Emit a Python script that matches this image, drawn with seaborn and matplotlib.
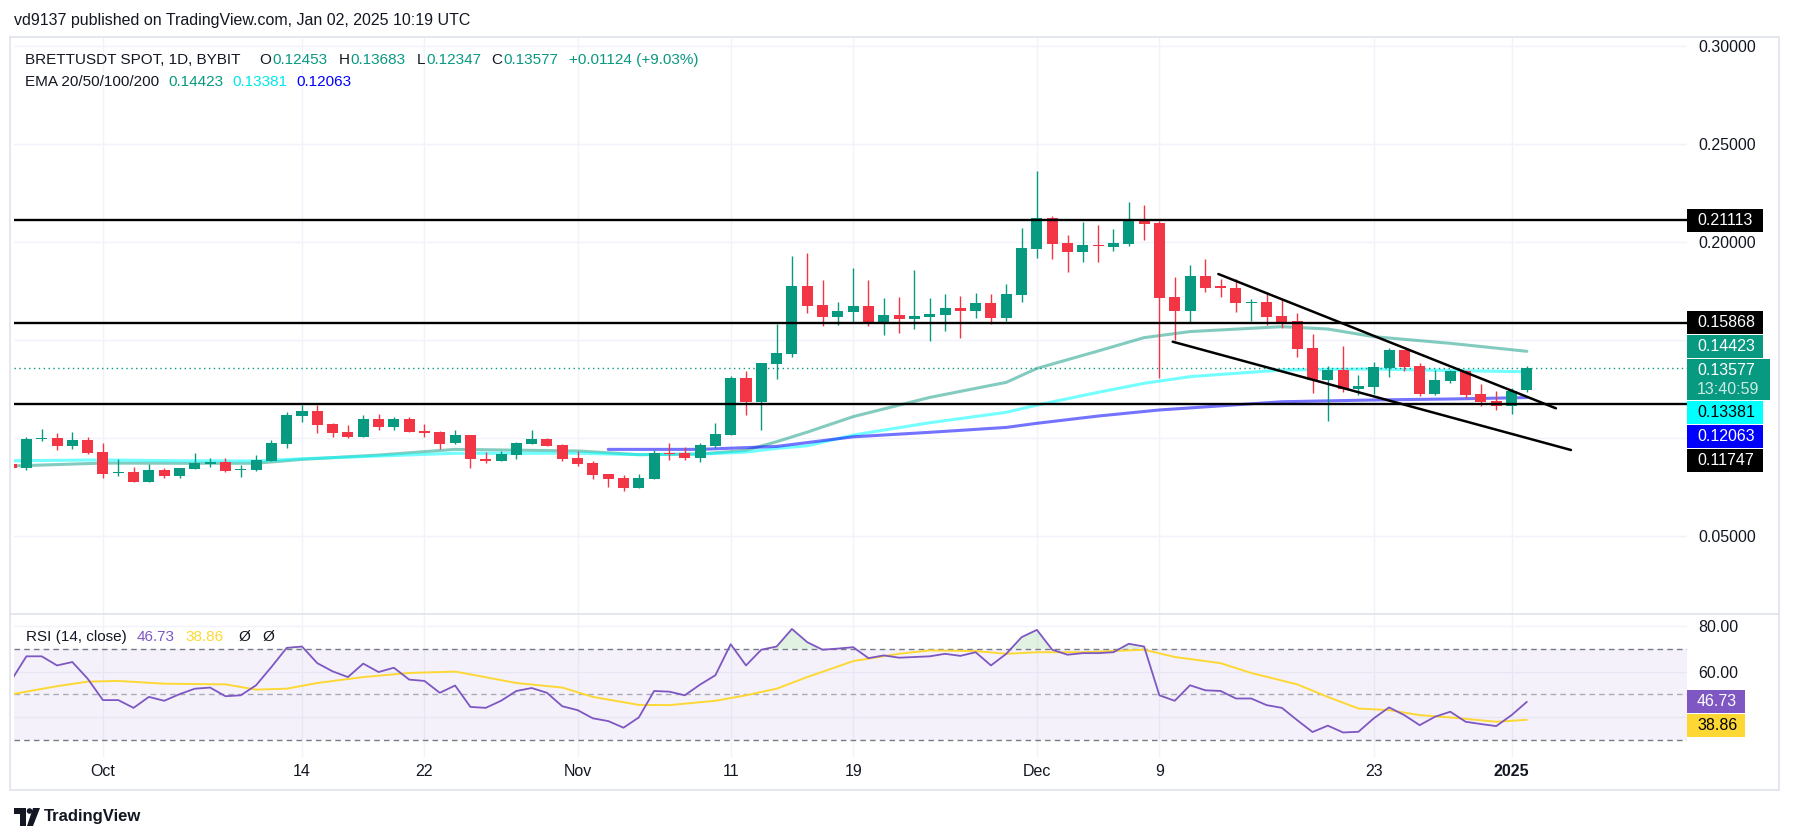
import numpy as np
import pandas as pd
import matplotlib
matplotlib.use("Agg")
import matplotlib.pyplot as plt
from matplotlib.patches import Rectangle, Polygon, Ellipse
from matplotlib.lines import Line2D
import seaborn as sns

# --- data (BRETTUSDT spot, 1D, Bybit) ---
DATES = pd.date_range("2024-09-25", "2025-01-02", freq="D")

OPEN = [.0867, .0849, .0995, .0999, .0961, .0990, .0929, .0823, .0827, .0777,
        .0837, .0808, .0843, .0867, .0878, .0838, .0838, .0884, .0971, .1114,
        .1138, .1073, .1031, .1007, .1097, .1058, .1097, .1036, .1031, .0973,
        .1015, .0893, .0884, .0915, .0971, .0995, .0964, .0898, .0872, .0816,
        .0796, .0747, .0792, .0925, .0923, .0900, .0961, .1017, .1306, .1185,
        .1379, .1430, .1776, .1679, .1619, .1645, .1674, .1594, .1628, .1609,
        .1619, .1629, .1663, .1650, .1689, .1614, .1730, .1964, .2122, .1995,
        .1949, .1985, .1974, .1990, .2112, .2097, .1719, .1650, .1827, .1770,
        .1765, .1690, .1694, .1624, .1597, .1459, .1298, .1349, .1252, .1262,
        .1359, .1449, .1367, .1226, .1292, .1342, .1225, .1189, .1165, .12453]
HIGH = [.0871, .1003, .1046, .1026, .1031, .1005, .0975, .0891, .0850, .0867,
        .0845, .0849, .0923, .0896, .0898, .0862, .0913, .0990, .1133, .1168,
        .1168, .1075, .1066, .1119, .1122, .1107, .1107, .1071, .1036, .1041,
        .1017, .0930, .0935, .0981, .1041, .0998, .0969, .0935, .0884, .0818,
        .0811, .0816, .0937, .0975, .0954, .0975, .1076, .1316, .1342, .1385,
        .1580, .1929, .1944, .1806, .1694, .1867, .1806, .1714, .1719, .1857,
        .1714, .1735, .1724, .1740, .1735, .1786, .2071, .2362, .2132, .2036,
        .2102, .2087, .2066, .2204, .2189, .2107, .1821, .1883, .1913, .1811,
        .1811, .1709, .1747, .1711, .1638, .1531, .1367, .1469, .1321, .1388,
        .1461, .1451, .1383, .1347, .1347, .1347, .1275, .1240, .1255, .13683]
LOW = [.0845, .0838, .0986, .0940, .0946, .0920, .0798, .0808, .0775, .0775,
       .0798, .0798, .0842, .0854, .0828, .0803, .0833, .0882, .0951, .1083,
       .1027, .1007, .1002, .1005, .1042, .1042, .1030, .1007, .0946, .0971,
       .0845, .0874, .0881, .0895, .0969, .0959, .0884, .0859, .0792, .0752,
       .0731, .0745, .0790, .0890, .0886, .0879, .0951, .1015, .1117, .1043,
       .1303, .1415, .1638, .1573, .1578, .1592, .1573, .1527, .1537, .1558,
       .1497, .1548, .1512, .1614, .1583, .1599, .1694, .1918, .1913, .1847,
       .1898, .1898, .1954, .1979, .2010, .1306, .1500, .1594, .1747, .1721,
       .1645, .1599, .1578, .1563, .1415, .1231, .1088, .1236, .1221, .1226,
       .1313, .1344, .1216, .1221, .1282, .1206, .1165, .1145, .1124, .12347]
CLOSE = [.0849, .0995, .0998, .0961, .0990, .0925, .0818, .0827, .0777, .0837,
         .0808, .0847, .0872, .0878, .0833, .0842, .0888, .0974, .1117, .1138,
         .1068, .1027, .1007, .1097, .1058, .1097, .1032, .1027, .0971, .1015,
         .0891, .0884, .0918, .0974, .0995, .0961, .0895, .0869, .0813, .0792,
         .0747, .0796, .0923, .0920, .0900, .0964, .1020, .1306, .1185, .1383,
         .1434, .1776, .1675, .1619, .1648, .1674, .1594, .1628, .1609, .1622,
         .1633, .1663, .1650, .1689, .1614, .1735, .1969, .2122, .1990, .1949,
         .1985, .1979, .1995, .2112, .2092, .1716, .1650, .1827, .1767, .1767,
         .1690, .1695, .1619, .1594, .1456, .1298, .1349, .1252, .1267, .1362,
         .1449, .1364, .1226, .1296, .1342, .1221, .1185, .1165, .1240, .13577]
RSI = [56.0, 66.7, 66.7, 62.7, 64.2, 56.9, 47.5, 47.5, 44.1, 48.9,
       47.2, 50.1, 52.5, 53.0, 49.2, 49.6, 54.0, 62.0, 70.4, 71.0,
       63.7, 60.1, 57.6, 63.5, 59.8, 61.7, 56.5, 55.9, 50.7, 53.9,
       44.5, 44.1, 47.2, 51.5, 52.8, 50.7, 44.8, 43.1, 39.5, 38.3,
       35.4, 39.9, 51.5, 51.2, 49.6, 54.3, 58.4, 72.0, 62.7, 69.6,
       71.0, 78.7, 72.9, 69.6, 70.1, 70.7, 65.9, 67.1, 66.1, 66.4,
       66.7, 67.8, 66.9, 68.5, 62.7, 67.8, 75.1, 78.3, 69.6, 67.4,
       68.1, 68.1, 68.5, 72.2, 71.0, 49.6, 47.2, 54.0, 51.8, 51.5,
       48.2, 48.2, 45.3, 44.1, 38.7, 33.5, 36.3, 33.3, 33.6, 39.5,
       44.3, 40.9, 36.5, 40.2, 42.4, 38.0, 37.0, 36.1, 40.9, 46.73]

# EMA curves sampled along the drawn lines (x = days after 2024-10-01)
EMA_DAYS = [-6, 0, 5, 10, 13, 18, 23, 31, 35, 39, 42, 44, 46, 49, 54, 59, 61, 65,
            68, 71, 77, 80, 83, 88, 93]
EMA20 = [0.0857, 0.0872, 0.0871, 0.0871, 0.0891, 0.0913, 0.0942, 0.0934, 0.0915,
         0.0918, 0.0937, 0.0981, 0.1030, 0.1109, 0.1207, 0.1284, 0.1355, 0.1444,
         0.1512, 0.1543, 0.1568, 0.1556, 0.1517, 0.1483, 0.14423]
EMA50 = [0.0884, 0.0888, 0.0884, 0.0883, 0.0894, 0.0908, 0.0922, 0.0922, 0.0915,
         0.0918, 0.0928, 0.0947, 0.0960, 0.1015, 0.1078, 0.1131, 0.1168, 0.1233,
         0.1279, 0.1313, 0.1347, 0.1350, 0.1352, 0.1344, 0.13381]
EMA100_DAYS = [33, 39, 44, 49, 54, 59, 61, 65, 69, 77, 83, 88, 93]
EMA100 = [0.0942, 0.0942, 0.0957, 0.1006, 0.1029, 0.1054, 0.1075, 0.1112, 0.1143,
          0.1185, 0.1194, 0.1199, 0.12063]

RSI_MA_DAYS = [-6, -3, -1, 1, 4, 8, 10, 12, 14, 17, 20, 23, 24, 27, 30, 32, 35, 37,
               40, 42, 44, 46, 49, 52, 54, 57, 59, 61, 64, 68, 70, 73, 75, 78, 80,
               82, 84, 86, 88, 91, 93]
RSI_MA = [50.0, 53.6, 55.6, 55.9, 54.7, 54.4, 52.1, 52.5, 55.0, 57.6, 59.4, 60.0,
          58.8, 55.0, 53.0, 48.9, 45.4, 45.3, 47.2, 49.6, 52.5, 57.6, 64.6, 67.8,
          69.3, 69.0, 67.8, 68.5, 68.5, 69.6, 66.4, 63.7, 59.4, 54.4, 48.9, 43.8,
          43.1, 40.9, 39.9, 38.0, 38.86]

LEVELS = [0.21113, 0.15868, 0.11747]
WEDGE_TOP_DAYS = [72.85, 94.9]
WEDGE_TOP = [0.18367, 0.11515]
WEDGE_BOTTOM_DAYS = [69.87, 95.88]
WEDGE_BOTTOM = [0.14913, 0.09388]

TICK_DATES = ["2024-10-01", "2024-10-14", "2024-10-22", "2024-11-01", "2024-11-11",
              "2024-11-19", "2024-12-01", "2024-12-09", "2024-12-23", "2025-01-01"]
TICK_LABELS = ["Oct", "14", "22", "Nov", "11", "19", "Dec", "9", "23", "2025"]
PRICE_TICKS = [0.05, 0.10, 0.15, 0.20, 0.25, 0.30]
PRICE_TICK_LABELS = ["0.05000", "", "", "0.20000", "0.25000", "0.30000"]
RSI_TICKS = [40, 60, 80]
RSI_TICK_LABELS = ["", "60.00", "80.00"]

# --- style ---
GREEN, RED, INK = "#089981", "#F23645", "#131722"
CYAN, BLUE, PURPLE, YELLOW = "#00FFFF", "#0000FF", "#7E57C2", "#FDD835"
GRID, FRAME = "#F0F3FA", "#E0E3EB"

sns.set_theme(style="white")
plt.rcParams["font.family"] = ["Liberation Sans", "DejaVu Sans"]

W, H = 1793, 839


def fx(px):
    return px / W


def fy(py):
    return 1 - py / H


BASE = pd.Timestamp("2024-10-01")
day = np.asarray((DATES - BASE).days, dtype=float)
tick_days = [(pd.Timestamp(t) - BASE).days for t in TICK_DATES]

fig = plt.figure(figsize=(W / 100, H / 100), dpi=100)
fig.patch.set_facecolor("white")

ax = fig.add_axes([fx(14), fy(614), fx(1687) - fx(14), fy(37) - fy(614)])
ax_rsi = fig.add_axes([fx(14), fy(757), fx(1687) - fx(14), fy(614) - fy(757)], sharex=ax)

# --- price pane ---
ax.set_xlim(-5.81, 103.46)
ax.set_ylim(0.2 - 372 / 1960, 0.2 + 205 / 1960)

ema = pd.DataFrame({"day": EMA_DAYS, "ema20": EMA20, "ema50": EMA50})
ema100 = pd.DataFrame({"day": EMA100_DAYS, "ema100": EMA100})
sns.lineplot(data=ema, x="day", y="ema20", ax=ax, color=GREEN, lw=2.2, alpha=0.5, zorder=3)
sns.lineplot(data=ema, x="day", y="ema50", ax=ax, color=CYAN, lw=2.2, alpha=0.55, zorder=3)
sns.lineplot(data=ema100, x="day", y="ema100", ax=ax, color=BLUE, lw=2.2, alpha=0.55, zorder=3)

candles = pd.DataFrame({"day": day, "open": OPEN, "high": HIGH, "low": LOW, "close": CLOSE})
colors = np.where(candles["close"] >= candles["open"], GREEN, RED)
ax.vlines(candles["day"], candles["low"], candles["high"], colors=colors, lw=1.0, zorder=4)
body_low = candles[["open", "close"]].min(axis=1)
body_h = (candles["close"] - candles["open"]).abs().clip(lower=0.0006)
ax.bar(candles["day"], body_h, bottom=body_low, width=0.72, color=colors, linewidth=0, zorder=4)

ax.axhline(CLOSE[-1], color=GREEN, ls=(0, (1, 2.5)), lw=1.0, zorder=3)
for lvl in LEVELS:
    ax.axhline(lvl, color="black", lw=1.7, zorder=5)
ax.plot(WEDGE_TOP_DAYS, WEDGE_TOP, color="black", lw=1.8, zorder=5)
ax.plot(WEDGE_BOTTOM_DAYS, WEDGE_BOTTOM, color="black", lw=1.8, zorder=5)

ax.set_xticks(tick_days)
ax.set_yticks(PRICE_TICKS)
ax.set_yticklabels(PRICE_TICK_LABELS)
ax.yaxis.tick_right()
ax.tick_params(axis="y", length=0, pad=8, labelsize=11.5, labelcolor=INK)
ax.tick_params(axis="x", length=0, labelbottom=False)
ax.grid(True, color=GRID, lw=1)
ax.set_axisbelow(True)
ax.set_xlabel("")
ax.set_ylabel("")

# --- RSI pane ---
ax_rsi.set_ylim(80 - 131 / 2.28, 80 + 12 / 2.28)
ax_rsi.axhspan(30, 70, color=PURPLE, alpha=0.08, lw=0, zorder=1)
ax_rsi.axhline(70, color="#787B86", ls=(0, (4, 3)), lw=1, zorder=2)
ax_rsi.axhline(50, color="#787B86", ls=(0, (4, 3)), lw=1, alpha=0.6, zorder=2)
ax_rsi.axhline(30, color="#787B86", ls=(0, (4, 3)), lw=1, zorder=2)
rsi_arr = np.array(RSI)
ax_rsi.fill_between(day, 70, rsi_arr, where=rsi_arr > 70, interpolate=True,
                    color="#4CAF50", alpha=0.16, lw=0, zorder=2)
rsi = pd.DataFrame({"day": day, "rsi": RSI})
rsi_ma = pd.DataFrame({"day": RSI_MA_DAYS, "ma": RSI_MA})
sns.lineplot(data=rsi_ma, x="day", y="ma", ax=ax_rsi, color=YELLOW, lw=1.4, zorder=3)
sns.lineplot(data=rsi, x="day", y="rsi", ax=ax_rsi, color=PURPLE, lw=1.3, zorder=4)

ax_rsi.set_xticks(tick_days)
ax_rsi.set_xticklabels(TICK_LABELS)
ax_rsi.get_xticklabels()[-1].set_fontweight("bold")
ax_rsi.set_yticks(RSI_TICKS)
ax_rsi.set_yticklabels(RSI_TICK_LABELS)
ax_rsi.yaxis.tick_right()
ax_rsi.tick_params(axis="y", length=0, pad=8, labelsize=11.5, labelcolor=INK)
ax_rsi.tick_params(axis="x", length=0, pad=5, labelsize=11.5, labelcolor=INK)
ax_rsi.grid(True, color=GRID, lw=1)
ax_rsi.set_axisbelow(True)
ax_rsi.set_xlabel("")
ax_rsi.set_ylabel("")

for a in (ax, ax_rsi):
    for s in a.spines.values():
        s.set_visible(False)

# --- frame around the chart ---
fig.add_artist(Rectangle((fx(10), fy(790)), fx(1779 - 10), (790 - 37) / H, fill=False,
                         edgecolor=FRAME, lw=1.2, transform=fig.transFigure))
fig.add_artist(Line2D([fx(10), fx(1779)], [fy(614), fy(614)], color=FRAME, lw=1.2,
                      transform=fig.transFigure))

# --- texts ---
renderer = fig.canvas.get_renderer()


def text_run(pieces, x_px, y_px, size=11):
    x = x_px
    for txt, col, gap in pieces:
        x += gap
        t = fig.text(fx(x), fy(y_px), txt, color=col, fontsize=size, va="center", ha="left")
        x = t.get_window_extent(renderer).x1


fig.text(fx(14), fy(21), "vd9137 published on TradingView.com, Jan 02, 2025 10:19 UTC",
         color=INK, fontsize=11.5, va="center", ha="left")

chg = CLOSE[-1] - OPEN[-1]
text_run([("BRETTUSDT SPOT, 1D, BYBIT", INK, 0),
          ("O", INK, 19), (f"{OPEN[-1]:.5f}", GREEN, 1),
          ("H", INK, 11), (f"{HIGH[-1]:.5f}", GREEN, 1),
          ("L", INK, 11), (f"{LOW[-1]:.5f}", GREEN, 1),
          ("C", INK, 10), (f"{CLOSE[-1]:.5f}", GREEN, 1),
          (f"{chg:+.5f} ({chg / OPEN[-1] * 100:+.2f}%)", GREEN, 11)], 25, 60)
text_run([("EMA 20/50/100/200", INK, 0),
          (f"{EMA20[-1]:.5f}", GREEN, 9),
          (f"{EMA50[-1]:.5f}", "#00E8E8", 9),
          (f"{EMA100[-1]:.5f}", BLUE, 9)], 25, 82)
text_run([("RSI (14, close)", INK, 0),
          (f"{RSI[-1]:.2f}", PURPLE, 10),
          (f"{RSI_MA[-1]:.2f}", YELLOW, 11),
          ("Ø", INK, 15), ("Ø", INK, 12)], 26, 637)


# --- value tags on the right scale ---
def value_tags(axis, tags, width):
    prev_bottom = None
    for value, lines, face, stack in tags:
        h = 23 if len(lines) == 1 else 41
        natural = H - axis.transData.transform((0, value))[1]
        top = prev_bottom + 1 if (stack and prev_bottom is not None) else natural - 11.5
        prev_bottom = top + h
        w = width + (7 if len(lines) > 1 else 0)
        fig.add_artist(Rectangle((fx(1687), fy(top + h)), w / W, h / H, facecolor=face,
                                 edgecolor="none", transform=fig.transFigure, zorder=5))
        for i, (txt, col) in enumerate(lines):
            fig.text(fx(1697), fy(top + 11.5 + 19 * i), txt, color=col, fontsize=11.5,
                     va="center", ha="left", zorder=6)


value_tags(ax, [
    (LEVELS[0], [(f"{LEVELS[0]:.5f}", "white")], "black", False),
    (LEVELS[1], [(f"{LEVELS[1]:.5f}", "white")], "black", False),
    (EMA20[-1], [(f"{EMA20[-1]:.5f}", "white")], GREEN, True),
    (CLOSE[-1], [(f"{CLOSE[-1]:.5f}", "white"), ("13:40:59", "#CDEBE5")], GREEN, True),
    (EMA50[-1], [(f"{EMA50[-1]:.5f}", "black")], CYAN, True),
    (EMA100[-1], [(f"{EMA100[-1]:.5f}", "white")], BLUE, True),
    (LEVELS[2], [(f"{LEVELS[2]:.5f}", "white")], "black", True),
], 76)
value_tags(ax_rsi, [
    (RSI[-1], [(f"{RSI[-1]:.2f}", "white")], PURPLE, False),
    (RSI_MA[-1], [(f"{RSI_MA[-1]:.2f}", "black")], YELLOW, True),
], 58)

# --- TradingView logo ---
def px_poly(points):
    return [(fx(x), fy(y)) for x, y in points]


fig.add_artist(Polygon(px_poly([(14, 808), (26, 808), (26, 826), (20, 826), (20, 814), (14, 814)]),
                       closed=True, facecolor=INK, edgecolor="none", transform=fig.transFigure))
fig.add_artist(Ellipse((fx(29.5), fy(811)), 5.6 / W, 5.6 / H, facecolor=INK,
                       edgecolor="none", transform=fig.transFigure))
fig.add_artist(Polygon(px_poly([(33, 808), (40, 808), (33, 826), (27, 826)]),
                       closed=True, facecolor=INK, edgecolor="none", transform=fig.transFigure))
fig.text(fx(44), fy(817), "TradingView", color=INK, fontsize=12, fontweight="bold",
         va="center", ha="left")

fig.savefig("out.png", dpi=100, facecolor="white")
